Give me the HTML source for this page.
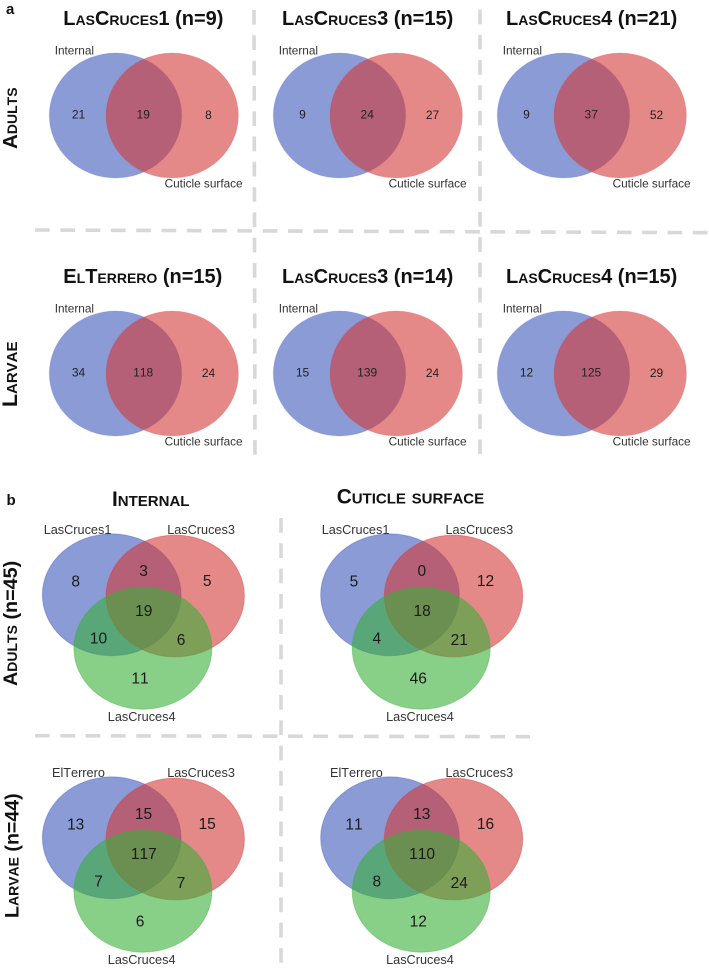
<!DOCTYPE html>
<html lang="en">
<head>
<meta charset="utf-8">
<title>Venn diagrams</title>
<style>
html,body{margin:0;padding:0;background:#fff;}
svg{display:block;font-family:"Liberation Sans",sans-serif;font-kerning:none;filter:blur(0.3px);}
.title{font-weight:bold;font-variant:small-caps;font-size:20px;fill:#111;}
.side{font-weight:bold;font-variant:small-caps;font-size:20.6px;fill:#111;}
.plain{font-variant:normal;}
.tag{font-weight:bold;font-size:15px;fill:#111;}
.sep{stroke:#d8d8d8;stroke-width:3.6;stroke-dasharray:14.7 10.6;fill:none;}
.lab2{font-size:11.8px;fill:#333;}
.num2{font-size:12px;fill:#222;text-anchor:middle;}
.lab3{font-size:12.7px;fill:#333;}
.num3{font-size:15.5px;fill:#1a1a1a;text-anchor:middle;}
</style>
</head>
<body>
<svg id="chart" xmlns="http://www.w3.org/2000/svg" width="709" height="968" viewBox="0 0 709 968">
  <text class="tag" x="6" y="14">a</text>
  <text class="tag" x="6.5" y="505">b</text>

  <line class="sep" x1="35" y1="230" x2="709" y2="232.7"/>
  <line class="sep" x1="254" y1="10" x2="255" y2="456"/>
  <line class="sep" x1="480" y1="9.5" x2="480" y2="454"/>
  <line class="sep" x1="35" y1="735.7" x2="530" y2="736.7"/>
  <line class="sep" x1="281" y1="518" x2="281" y2="964"/>

  <text class="side" transform="translate(17,149) rotate(-90)">Adults</text>
  <text class="side" style="font-size:21.3px" transform="translate(17,407) rotate(-90)">Larvae</text>
  <text class="side" style="font-size:19.8px" transform="translate(17,686) rotate(-90)">Adults <tspan class="plain">(n=45)</tspan></text>
  <text class="side" style="font-size:19.6px" transform="translate(18.3,918) rotate(-90)">Larvae <tspan class="plain">(n=44)</tspan></text>

  <text class="title" style="font-size:20.8px" x="112" y="506">Internal</text>
  <text class="title" style="font-size:20.8px" x="336.7" y="503.5">Cuticle surface</text>

  <defs>
    <clipPath id="clip2"><rect x="0" y="0" width="242.5" height="968"/></clipPath>
  </defs>
</svg>
<script>
// Panel a: two-set diagrams (row 1 = adults, row 2 = larvae)
const pairSites = ["LasCruces1", "LasCruces3", "LasCruces4", "ElTerrero", "LasCruces3", "LasCruces4"];
const pairSampleSizes = [9, 15, 21, 15, 14, 15];
const pairInternalOnly = [21, 9, 9, 34, 15, 12];
const pairShared = [19, 24, 37, 118, 139, 125];
const pairCuticleOnly = [8, 27, 52, 24, 24, 29];
const setNames = ["Internal", "Cuticle surface"];

// Panel b: three-set diagrams. Order: A only, A&B, B only, all three, A&C, B&C, C only
const adultsSites = ["LasCruces1", "LasCruces3", "LasCruces4"];
const larvaeSites = ["ElTerrero", "LasCruces3", "LasCruces4"];
const adultsInternal = [8, 3, 5, 19, 10, 6, 11];
const adultsCuticle = [5, 0, 12, 18, 4, 21, 46];
const larvaeInternal = [13, 15, 15, 117, 7, 7, 6];
const larvaeCuticle = [11, 13, 16, 110, 8, 24, 12];

const NS = "http://www.w3.org/2000/svg";
const svg = document.getElementById("chart");
const BLUE = "#3c58bb", RED = "#d43939", GREEN = "#39af39";

function shape(parent, tag, props) {
  const n = document.createElementNS(NS, tag);
  for (const k in props) n.setAttribute(k, props[k]);
  parent.appendChild(n);
  return n;
}
function ellipse(parent, cx, cy, rx, ry, color, strokeAlpha) {
  return shape(parent, "ellipse", {cx: cx, cy: cy, rx: rx, ry: ry, fill: color, "fill-opacity": 0.6, stroke: color, "stroke-opacity": strokeAlpha, "stroke-width": 1});
}
function label(parent, cls, x, y, str) {
  const t = shape(parent, "text", {"class": cls, x: x, y: y});
  t.textContent = str;
  return t;
}

function drawPair(i) {
  const col = i % 3, row = Math.floor(i / 3);
  const g = shape(svg, "g", {transform: "translate(" + (col * 224) + "," + (row * 258) + ")"});
  
  

  const title = label(g, "title", col === 0 ? 63.3 : 58, 25, pairSites[i] + " ");
  
  
  const sampleSize = shape(title, "tspan", {"class": "plain"});
  sampleSize.textContent = "(n=" + pairSampleSizes[i] + ")";

  const a = ellipse(g, 115.5, 115.5, 66.2, 62.5, BLUE, 0.15);
  
  
  const b = ellipse(g, 172.2, 115.5, 66.2, 62.5, RED, 0.15);
  
  

  const ln = label(g, "lab2", 54.7, 54.4, setNames[0]);
  
  
  const lc = label(g, "lab2", 164.6, 187.7, setNames[1]);
  lc.setAttribute('clip-path', 'url(#clip2)');
  
  

  const n1 = label(g, "num2", 78.5, 118.6, pairInternalOnly[i]);
  
  
  const n2 = label(g, "num2", 143.2, 118.4, pairShared[i]);
  
  
  const n3 = label(g, "num2", 208.5, 118.8, pairCuticleOnly[i]);
  
  
}

function drawTriple(dx, dy, sites, values, firstX) {
  const g = shape(svg, "g", {transform: "translate(" + dx + "," + dy + ")"});
  
  

  const a = ellipse(g, 111.7, 594.8, 69.3, 60.9, BLUE, 0.4);
  
  
  const b = ellipse(g, 175.2, 596, 69.2, 60.9, RED, 0.4);
  
  
  const c = ellipse(g, 142.9, 648.2, 69, 61, GREEN, 0.4);
  
  

  const la = label(g, "lab3", firstX, 534, sites[0]);
  
  
  const lb = label(g, "lab3", 167.2, 534, sites[1]);
  
  
  const lc = label(g, "lab3", 107.8, 720.9, sites[2]);
  
  

  const n0 = label(g, "num3", 75.7, 586.7, values[0]);
  
  
  const n1 = label(g, "num3", 143.5, 575.8, values[1]);
  
  
  const n2 = label(g, "num3", 207.2, 586, values[2]);
  
  
  const n3 = label(g, "num3", 143.8, 616, values[3]);
  
  
  const n4 = label(g, "num3", 98.5, 643.5, values[4]);
  
  
  const n5 = label(g, "num3", 181, 645, values[5]);
  
  
  const n6 = label(g, "num3", 140, 683.7, values[6]);
  
  
}

pairSites.forEach(function (_, i) { drawPair(i); });
drawTriple(0, 0, adultsSites, adultsInternal, 43.7);
drawTriple(278.3, 0, adultsSites, adultsCuticle, 43.4);
drawTriple(0, 243, larvaeSites, larvaeInternal, 52);
drawTriple(278.3, 243, larvaeSites, larvaeCuticle, 51.7);
</script>
</body>
</html>
